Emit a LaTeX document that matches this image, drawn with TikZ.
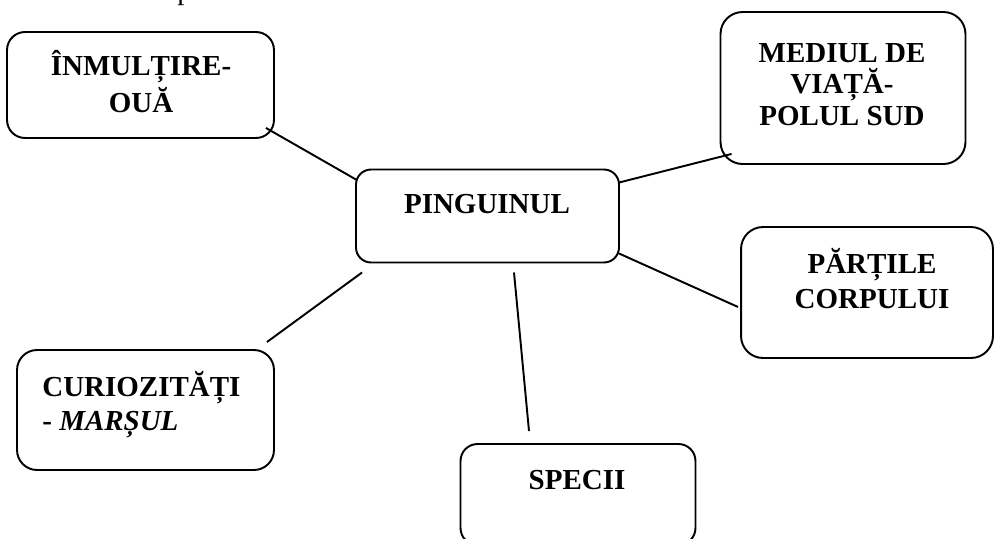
\documentclass[tikz,border=0pt]{standalone}
\usepackage{fontspec}
\setmainfont{Liberation Serif}
\usepackage{tikz}

\begin{document}
\begin{tikzpicture}[x=0.02cm, y=-0.02cm,
    box/.style={draw, line width=1.1pt, inner sep=0pt},
    lbl/.style={font=\fontsize{16.5}{18.8}\selectfont\bfseries, align=center, inner sep=0pt, anchor=base},
    link/.style={line width=1.1pt}]
    \useasboundingbox (0,0) rectangle (994,538);

    % last letter of the line above, cut off by the page
    \node[font=\fontsize{16.5}{18.8}\selectfont, anchor=base west, inner sep=0pt] (ptop) at (177,-1) {p};

    % the boxes
    \node[box, rounded corners=0.36cm, minimum width=5.34cm, minimum height=2.12cm] (inm) at (140.5,85) {};
    \node[box, rounded corners=0.44cm, minimum width=4.9cm, minimum height=3.04cm] (med) at (843,88) {};
    \node[box, rounded corners=0.3cm, minimum width=5.26cm, minimum height=1.86cm] (pin) at (487.5,216) {};
    \node[box, rounded corners=0.44cm, minimum width=5.04cm, minimum height=2.62cm] (par) at (867,292.5) {};
    \node[box, rounded corners=0.4cm, minimum width=5.14cm, minimum height=2.4cm] (cur) at (145.5,410) {};
    \node[box, rounded corners=0.34cm, minimum width=4.7cm, minimum height=2.02cm] (spe) at (578,494.5) {};

    % the texts
    \node[lbl] (inmtxt) at (141,112) {ÎNMULȚIRE-\\[1.7pt]OUĂ};
    \node[lbl] (medtxt) at (842,125) {MEDIUL DE\\[-1.1pt]VIAȚĂ-\\[-1.1pt]POLUL SUD};
    \node[lbl] (pintxt) at (487,213) {PINGUINUL};
    \node[lbl] (partxt) at (872,308) {PĂRȚILE\\[1.1pt]CORPULUI};
    \node[lbl, align=left, anchor=base west] (curtxt) at (42,430) {CURIOZITĂȚI\\- \textit{MARȘUL}};
    \node[lbl] (spetxt) at (577,489) {SPECII};

    % the links
    \draw[link] ([shift={(-9,-11)}]inm.south east) -- ([shift={(1,11)}]pin.north west);
    \draw[link] ([shift={(-1,14)}]pin.north east) -- ([shift={(12,-11)}]med.south west);
    \draw[link] ([shift={(-1,-10)}]pin.south east) -- ([shift={(-2,14.5)}]par.west);
    \draw[link] ([shift={(7,9)}]pin.south west) -- ([shift={(-8,-7)}]cur.north east);
    \draw[link] ([shift={(26.5,9)}]pin.south) -- ([shift={(-49,-12)}]spe.north);
\end{tikzpicture}
\end{document}
